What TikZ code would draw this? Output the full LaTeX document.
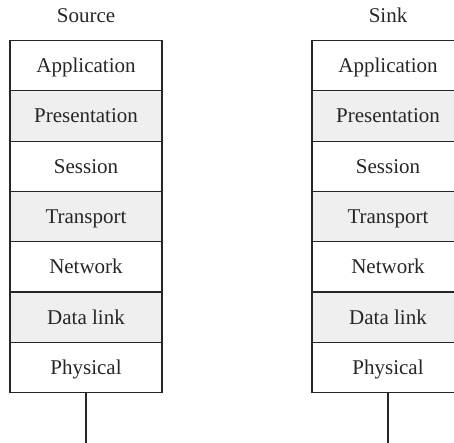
\documentclass[tikz,border=0pt]{standalone}
\usepackage{fontspec}
\setmainfont{Liberation Serif}
\definecolor{layerfill}{HTML}{EFEFEF}
\definecolor{inkline}{HTML}{262626}
\begin{document}
\begin{tikzpicture}[x=1pt,y=-1pt,
  every node/.style={font=\fontsize{21}{25}\selectfont, text=black!85},
  layer/.style={draw=inkline, line width=1.1pt, minimum width=152pt, minimum height=50.3pt,
    inner sep=0pt, outer sep=0pt, text height=13.8pt, text depth=0pt, anchor=north},
  shaded/.style={layer, fill=layerfill},
  plain/.style={layer, fill=white},
  wire/.style={draw=inkline, line width=1.1pt},
  title/.style={anchor=base}]
  \useasboundingbox (0,0) rectangle (454,442);
  \clip (0,0) rectangle (454,442);

  % source stack
  \node[title] (srct) at (86,22.7) {Source};
  \node[plain]  (s1) at (86,40.5) {Application};
  \node[shaded] (s2) at (s1.south) {Presentation};
  \node[plain]  (s3) at (s2.south) {Session};
  \node[shaded] (s4) at (s3.south) {Transport};
  \node[plain]  (s5) at (s4.south) {Network};
  \node[shaded] (s6) at (s5.south) {Data link};
  \node[plain]  (s7) at (s6.south) {Physical};
  \coordinate (sw) at (86,450);
  \draw[wire] (s7.south) -- (sw);

  % sink stack
  \node[title] (dstt) at (388,22.7) {Sink};
  \node[plain]  (d1) at (388,40.5) {Application};
  \node[shaded] (d2) at (d1.south) {Presentation};
  \node[plain]  (d3) at (d2.south) {Session};
  \node[shaded] (d4) at (d3.south) {Transport};
  \node[plain]  (d5) at (d4.south) {Network};
  \node[shaded] (d6) at (d5.south) {Data link};
  \node[plain]  (d7) at (d6.south) {Physical};
  \coordinate (dw) at (388,450);
  \draw[wire] (d7.south) -- (dw);
\end{tikzpicture}
\end{document}
